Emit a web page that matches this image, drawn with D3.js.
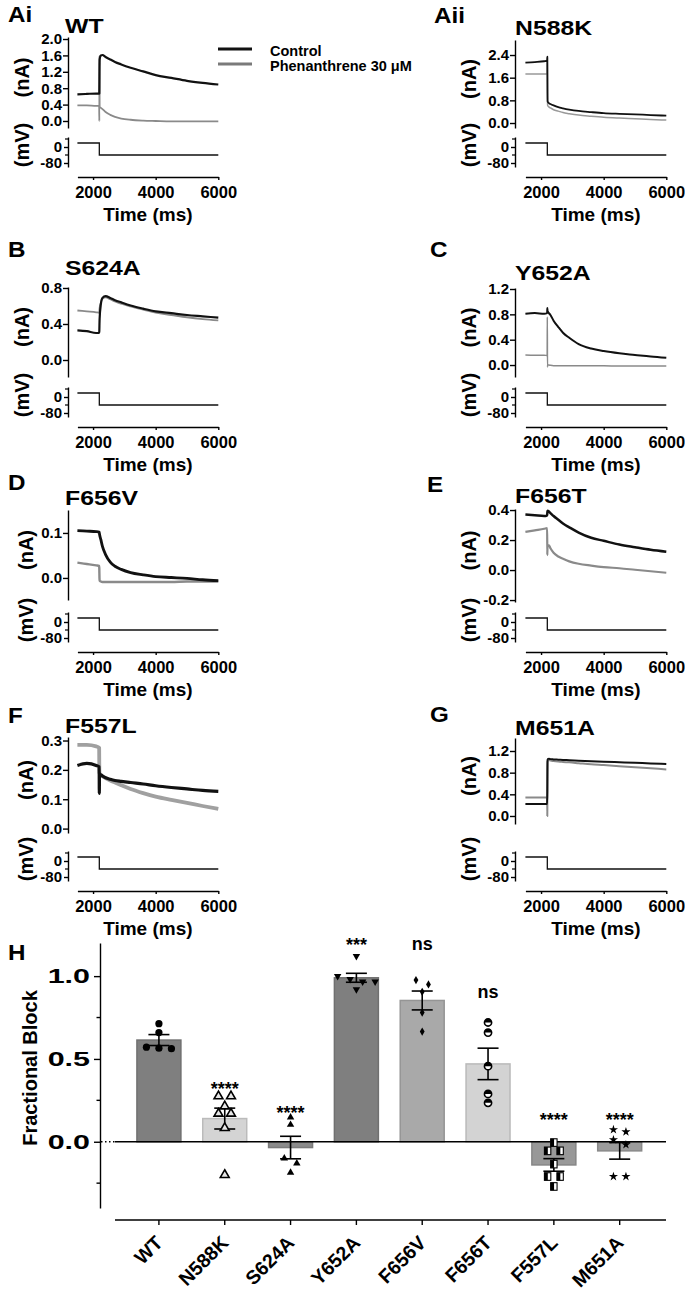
<!DOCTYPE html>
<html>
<head>
<meta charset="utf-8">
<script src="https://cdn.jsdelivr.net/npm/d3@7"></script>
<style>
  html, body { margin: 0; padding: 0; background: #fff; }
  svg { display: block; }
</style>
</head>
<body>
<svg id="chart" width="685" height="1294"></svg>
<script>
// ---------------- DATA ----------------
const timeMs = [1500, 1800, 2100, 2195, 2200, 2205, 2210, 2250, 2300, 2400, 2550, 2700, 2900, 3200, 3600, 4000, 4500, 5000, 5500, 6000];

const wtControl    = [0.65, 0.66, 0.67, 0.67, 0.67, 1.25, 1.5, 1.6, 1.61, 1.56, 1.5, 1.44, 1.38, 1.3, 1.21, 1.12, 1.05, 0.98, 0.93, 0.89];
const wtPhen       = [0.38, 0.38, 0.37, 0.37, 0.0, 1.58, 0.34, 0.32, 0.29, 0.22, 0.15, 0.1, 0.06, 0.03, 0.01, 0.0, -0.01, -0.01, -0.01, -0.01];
const n588kControl = [2.13, 2.15, 2.18, 2.2, 2.34, 1.2, 0.76, 0.7, 0.67, 0.62, 0.56, 0.52, 0.475, 0.425, 0.385, 0.35, 0.325, 0.305, 0.28, 0.26];
const n588kPhen    = [1.73, 1.73, 1.73, 1.73, 2.3, 0.9, 0.62, 0.57, 0.53, 0.47, 0.42, 0.37, 0.33, 0.28, 0.24, 0.205, 0.175, 0.15, 0.125, 0.105];
const s624aControl = [0.33, 0.32, 0.30, 0.30, 0.32, 0.4, 0.46, 0.62, 0.69, 0.71, 0.69, 0.665, 0.64, 0.605, 0.57, 0.54, 0.52, 0.5, 0.485, 0.47];
const s624aPhen    = [0.55, 0.54, 0.53, 0.525, 0.53, 0.56, 0.58, 0.64, 0.68, 0.695, 0.675, 0.65, 0.625, 0.595, 0.56, 0.525, 0.5, 0.475, 0.455, 0.44];
const y652aControl = [0.81, 0.82, 0.81, 0.82, 0.9, 0.86, 0.85, 0.82, 0.79, 0.7, 0.6, 0.51, 0.43, 0.33, 0.26, 0.22, 0.185, 0.16, 0.135, 0.115];
const y652aPhen    = [0.16, 0.155, 0.155, 0.15, 0.76, -0.03, 0.0, 0.0, -0.005, -0.01, -0.01, -0.01, -0.01, -0.012, -0.012, -0.013, -0.014, -0.015, -0.015, -0.015];
const f656vControl = [0.105, 0.104, 0.103, 0.102, 0.1, 0.098, 0.096, 0.085, 0.07, 0.052, 0.035, 0.026, 0.019, 0.012, 0.007, 0.003, 0.001, -0.001, -0.004, -0.006];
const f656vPhen    = [0.034, 0.031, 0.028, 0.027, 0.02, 0.0, -0.006, -0.008, -0.009, -0.009, -0.009, -0.009, -0.009, -0.009, -0.009, -0.009, -0.009, -0.008, -0.008, -0.008];
const f656tControl = [0.37, 0.365, 0.36, 0.365, 0.38, 0.39, 0.395, 0.39, 0.38, 0.36, 0.335, 0.31, 0.285, 0.25, 0.215, 0.195, 0.17, 0.152, 0.135, 0.122];
const f656tPhen    = [0.255, 0.265, 0.275, 0.28, 0.1, 0.16, 0.165, 0.165, 0.145, 0.115, 0.09, 0.075, 0.058, 0.042, 0.03, 0.02, 0.012, 0.002, -0.008, -0.018];
const f557lControl = [0.215, 0.222, 0.215, 0.21, 0.12, 0.19, 0.186, 0.183, 0.179, 0.173, 0.168, 0.164, 0.161, 0.157, 0.152, 0.146, 0.14, 0.135, 0.13, 0.127];
const f557lPhen    = [0.285, 0.285, 0.28, 0.275, 0.2, 0.19, 0.188, 0.183, 0.178, 0.172, 0.164, 0.157, 0.148, 0.135, 0.121, 0.109, 0.098, 0.088, 0.077, 0.067];
const m651aControl = [0.22, 0.22, 0.22, 0.22, 0.5, 1.0, 1.05, 1.055, 1.05, 1.045, 1.04, 1.035, 1.03, 1.022, 1.012, 1.003, 0.993, 0.982, 0.97, 0.96];
const m651aPhen    = [0.34, 0.34, 0.34, 0.34, 0.0, 0.9, 1.02, 1.03, 1.025, 1.015, 1.005, 0.998, 0.99, 0.975, 0.955, 0.94, 0.92, 0.9, 0.88, 0.86];

const wtTicks    = [0, 0.4, 0.8, 1.2, 1.6, 2.0];
const n588kTicks = [0, 0.8, 1.6, 2.4];
const s624aTicks = [0, 0.4, 0.8];
const y652aTicks = [0, 0.4, 0.8, 1.2];
const f656vTicks = [0, 0.1];
const f656tTicks = [-0.2, 0, 0.2, 0.4];
const f557lTicks = [0, 0.1, 0.2, 0.3];
const m651aTicks = [0, 0.4, 0.8, 1.2];

const stepTime = [1500, 2200, 2200, 6000];
const stepVoltage = [20, 20, -40, -40];
const timeTicks = [2000, 4000, 6000];
const voltageTicks = [0, -80];
const voltageMinorTicks = [40, -40];
const legendLabels = ["Control", "Phenanthrene 30 \u03bcM"];

const mutants = ["WT", "N588K", "S624A", "Y652A", "F656V", "F656T", "F557L", "M651A"];
const blockMean = [0.614, 0.14, -0.035, 0.99, 0.853, 0.47, -0.14, -0.055];
const blockSem  = [0.033, 0.063, 0.068, 0.027, 0.057, 0.095, 0.038, 0.05];
const blockPoints = [
  [0.713, 0.659, 0.571, 0.565, 0.562],
  [0.275, 0.275, 0.214, 0.17, 0.17, 0.083, -0.2],
  [0.147, 0.103, -0.1, -0.13, -0.186],
  [1.12, 1.0, 0.982, 0.966, 0.966, 0.92],
  [0.976, 0.95, 0.905, 0.78, 0.665],
  [0.72, 0.659, 0.456, 0.289, 0.235],
  [-0.005, -0.055, -0.055, -0.135, -0.21, -0.21, -0.27],
  [0.073, 0.06, 0.012, -0.018, -0.21, -0.21]
];
const sigText = ["", "****", "****", "***", "ns", "ns", "****", "****"];
const blockTicks = [0, 0.5, 1.0];
const blockMinorTicks = [-0.25, 0.25, 0.75];

// ---------------- LAYOUT / STYLE ----------------
const FONT = '"Liberation Sans", Arial, Helvetica, sans-serif';
const sigLevel = [null, 0.345, 0.2, 1.21, 1.19, 0.9, 0.158, 0.158];
const barFill = ["#7f7f7f", "#d4d4d4", "#8b8b8b", "#7f7f7f", "#a9a9a9", "#d3d3d3", "#989898", "#9c9c9c"];
const markerType = ["circle", "triOpen", "tri", "triDown", "diamond", "halfCircle", "halfSquare", "star"];

const cols = [
  { axisX: 68,  xr: [77.4, 218.3], lx: 29,  letterX: 8,   titleX: 65 },
  { axisX: 515, xr: [525.4, 666.3], lx: 476, letterX: 430, titleX: 515 }
];
const rowDy = [0, 250, 475, 714];

const panels = [
  { letter: "Ai",  title: "WT",    ctrl: wtControl,    phen: wtPhen,    ticks: wtTicks,    col: 0, row: 0, yr: [128, 37],  dom: [-0.171, 2.049], letterY: 22,  titleY: 33,  w: [2.2, 1.8] },
  { letter: "Aii", title: "N588K", ctrl: n588kControl, phen: n588kPhen, ticks: n588kTicks, col: 1, row: 0, yr: [128, 40],  dom: [-0.176, 2.93],  letterY: 23,  titleY: 35,  letterX: 434, w: [1.8, 1.5], gray: "#999" },
  { letter: "B",   title: "S624A", ctrl: s624aControl, phen: s624aPhen, ticks: s624aTicks, col: 0, row: 1, yr: [377, 287], dom: [-0.189, 0.811], letterY: 257, titleY: 275, w: [2.2, 1.8] },
  { letter: "C",   title: "Y652A", ctrl: y652aControl, phen: y652aPhen, ticks: y652aTicks, col: 1, row: 1, yr: [377, 288], dom: [-0.189, 1.216], letterY: 257, titleY: 280, w: [2.0, 1.5] },
  { letter: "D",   title: "F656V", ctrl: f656vControl, phen: f656vPhen, ticks: f656vTicks, col: 0, row: 2, yr: [600, 510], dom: [-0.049, 0.151], letterY: 490, titleY: 505, lx: 33, w: [2.8, 2.4] },
  { letter: "E",   title: "F656T", ctrl: f656tControl, phen: f656tPhen, ticks: f656tTicks, col: 1, row: 2, yr: [602, 509], dom: [-0.213, 0.407], letterY: 492, titleY: 503, letterX: 427, w: [2.5, 2.2] },
  { letter: "F",   title: "F557L", ctrl: f557lControl, phen: f557lPhen, ticks: f557lTicks, col: 0, row: 3, yr: [833, 737], dom: [-0.015, 0.312], letterY: 723, titleY: 733, lx: 33, w: [3.2, 3.8], gray: "#a0a0a0" },
  { letter: "G",   title: "M651A", ctrl: m651aControl, phen: m651aPhen, ticks: m651aTicks, col: 1, row: 3, yr: [824, 738], dom: [-0.148, 1.44],  letterY: 722, titleY: 735, w: [2.0, 2.0] }
];

// ---------------- HELPERS ----------------
const svg = d3.select("#chart");

function txt(parent, x, y, s, size, anchor, stretch, rotate) {
  const t = parent.append("text")
    .attr("font-family", FONT).attr("font-weight", "bold")
    .attr("font-size", size).attr("fill", "#000")
    .attr("text-anchor", anchor || "start")
    .text(s);
  if (rotate) t.attr("transform", `translate(${x},${y}) rotate(${rotate})`);
  else t.attr("x", x).attr("y", y);
  if (stretch && stretch !== 1) {
    const L = t.node().getComputedTextLength();
    t.attr("textLength", L * stretch).attr("lengthAdjust", "spacingAndGlyphs");
  }
  return t;
}

function styleAxis(g, fs, stretch) {
  g.attr("font-family", null).attr("font-size", null);
  g.select(".domain").attr("stroke", "#000").attr("stroke-width", 1.4);
  g.selectAll(".tick line").attr("stroke", "#000").attr("stroke-width", 1.4);
  g.selectAll(".tick text")
    .attr("font-family", FONT).attr("font-weight", "bold")
    .attr("font-size", fs).attr("fill", "#000");
  if (stretch) {
    g.selectAll(".tick text").each(function () {
      const L = this.getComputedTextLength();
      this.setAttribute("textLength", L * stretch);
      this.setAttribute("lengthAdjust", "spacingAndGlyphs");
    });
  }
}

// ---------------- TRACE PANELS ----------------
panels.forEach(p => {
  const L = cols[p.col], dy = rowDy[p.row];
  const x = d3.scaleLinear().domain([1500, 6000]).range(L.xr);
  const y = d3.scaleLinear().domain(p.dom).range(p.yr);
  const yv = d3.scaleLinear().domain([-100, 50]).range([167 + dy, 137 + dy]);
  const g = svg.append("g");

  txt(g, p.letterX !== undefined ? p.letterX : L.letterX, p.letterY, p.letter, 22, "start", 1.1);
  txt(g, p.titleX !== undefined ? p.titleX : L.titleX, p.titleY, p.title, 21, "start", 1.18);

  const ga = g.append("g").attr("transform", `translate(${L.axisX},0)`)
    .call(d3.axisLeft(y).tickValues(p.ticks).tickSize(5).tickPadding(1).tickSizeOuter(0)
      .tickFormat(d => d.toFixed(1)));
  styleAxis(ga, 15);

  const gv = g.append("g").attr("transform", `translate(${L.axisX},0)`)
    .call(d3.axisLeft(yv).tickValues(voltageTicks).tickSize(4).tickPadding(2).tickSizeOuter(0)
      .tickFormat(d => String(d)));
  styleAxis(gv, 15);
  gv.selectAll("line.minor").data(voltageMinorTicks).join("line").attr("class", "minor")
    .attr("x1", -3).attr("x2", 0).attr("y1", d => yv(d)).attr("y2", d => yv(d))
    .attr("stroke", "#000").attr("stroke-width", 1.2);

  const gx = g.append("g").attr("transform", `translate(0,${177 + dy})`)
    .call(d3.axisBottom(x).tickValues(timeTicks).tickSize(3).tickPadding(6).tickSizeOuter(0)
      .tickFormat(d3.format("d")));
  styleAxis(gx, 16.5);

  txt(g, (L.xr[0] + L.xr[1]) / 2, 221 + dy, "Time (ms)", 19, "middle");

  const lx = p.lx !== undefined ? p.lx : L.lx;
  txt(g, lx, (p.yr[0] + p.yr[1]) / 2 - 5, "(nA)", 20, "middle", 1, -90);
  txt(g, lx, 145 + dy, "(mV)", 20, "middle", 1, -90);

  const line = d3.line().x((d, i) => x(timeMs[i])).y(d => y(d)).curve(d3.curveMonotoneX);
  g.append("path").datum(p.phen).attr("d", line).attr("fill", "none")
    .attr("stroke", p.gray || "#8a8a8a").attr("stroke-width", p.w[1]).attr("stroke-linejoin", "round");
  g.append("path").datum(p.ctrl).attr("d", line).attr("fill", "none")
    .attr("stroke", "#111").attr("stroke-width", p.w[0]).attr("stroke-linejoin", "round");

  const vline = d3.line().x((d, i) => x(stepTime[i])).y(d => yv(d));
  g.append("path").datum(stepVoltage).attr("d", vline).attr("fill", "none")
    .attr("stroke", "#111").attr("stroke-width", 1.3);
});

// legend (panel Ai)
const legColors = ["#111", "#7a7a7a"];
legendLabels.forEach((s, i) => {
  const yy = 49 + i * 15;
  svg.append("line").attr("x1", 218).attr("x2", 252).attr("y1", yy).attr("y2", yy)
    .attr("stroke", legColors[i]).attr("stroke-width", 3);
  txt(svg, 270, yy + 6.5, s, 14.5, "start");
});

// ---------------- PANEL H ----------------
const gH = svg.append("g");
const xb = d3.scalePoint().domain(mutants).range([126, 652.6]).padding(0.5);
const yb = d3.scaleLinear().domain([-0.4, 1.2]).range([1208, 943]);
const bw = xb.step() * 0.668;

txt(gH, 8, 960, "H", 22, "start", 1.1);

// bars
gH.selectAll("rect.bar").data(mutants).join("rect").attr("class", "bar")
  .attr("x", d => xb(d) - bw / 2).attr("width", bw)
  .attr("y", (d, i) => yb(Math.max(0, blockMean[i])))
  .attr("height", (d, i) => Math.abs(yb(blockMean[i]) - yb(0)))
  .attr("fill", (d, i) => barFill[i])
  .attr("stroke", (d, i) => d3.color(barFill[i]).darker(0.35))
  .attr("stroke-width", 1.5);

// zero line
gH.append("line").attr("x1", 101).attr("x2", 115).attr("y1", yb(0)).attr("y2", yb(0))
  .attr("stroke", "#000").attr("stroke-width", 1.3).attr("stroke-dasharray", "1.5,2.5");
gH.append("line").attr("x1", 115).attr("x2", 666).attr("y1", yb(0)).attr("y2", yb(0))
  .attr("stroke", "#000").attr("stroke-width", 1.6);

// error bars
mutants.forEach((m, i) => {
  const cx = xb(m), lo = yb(blockMean[i] - blockSem[i]), hi = yb(blockMean[i] + blockSem[i]);
  gH.append("line").attr("x1", cx).attr("x2", cx).attr("y1", lo).attr("y2", hi)
    .attr("stroke", "#000").attr("stroke-width", 1.6);
  [lo, hi].forEach(yy => gH.append("line").attr("x1", cx - 10.5).attr("x2", cx + 10.5)
    .attr("y1", yy).attr("y2", yy).attr("stroke", "#000").attr("stroke-width", 1.6));
});

// points (row-based dodge)
function drawMarker(type, cx, cy) {
  const s = gH.append("g").attr("transform", `translate(${cx},${cy})`);
  if (type === "circle") {
    s.append("circle").attr("r", 3.6).attr("fill", "#000");
  } else if (type === "triOpen") {
    s.append("path").attr("d", d3.symbol(d3.symbolTriangle, 34)())
      .attr("fill", "#e6e6e6").attr("stroke", "#000").attr("stroke-width", 1.6);
  } else if (type === "tri") {
    s.append("path").attr("d", d3.symbol(d3.symbolTriangle, 24)()).attr("fill", "#000");
  } else if (type === "triDown") {
    s.append("path").attr("d", d3.symbol(d3.symbolTriangle, 24)()).attr("fill", "#000")
      .attr("transform", "rotate(180)");
  } else if (type === "diamond") {
    s.append("path").attr("d", d3.symbol(d3.symbolDiamond, 20)()).attr("fill", "#000");
  } else if (type === "halfCircle") {
    s.append("circle").attr("r", 3.6).attr("fill", "#fff").attr("stroke", "#000").attr("stroke-width", 1.6);
    s.append("path").attr("d", "M-3.6,0A3.6,3.6 0 0 1 3.6,0Z").attr("fill", "#000");
  } else if (type === "halfSquare") {
    s.append("rect").attr("x", -3.2).attr("y", -3.8).attr("width", 6.4).attr("height", 7.6)
      .attr("fill", "#fff").attr("stroke", "#000").attr("stroke-width", 1.1);
    s.append("rect").attr("x", -3.2).attr("y", -3.8).attr("width", 3.4).attr("height", 7.6).attr("fill", "#000");
  } else if (type === "star") {
    s.append("path").attr("d", d3.symbol(d3.symbolStar, 26)()).attr("fill", "#000");
  }
}

const dodgeStep = 12.5;
mutants.forEach((m, i) => {
  const pts = blockPoints[i].map(v => ({ v, py: yb(v) })).sort((a, b) => a.py - b.py);
  const rows = [];
  pts.forEach(pt => {
    const last = rows[rows.length - 1];
    if (last && pt.py - last[0].py <= 6) last.push(pt);
    else rows.push([pt]);
  });
  rows.forEach(r => r.forEach((pt, k) => {
    drawMarker(markerType[i], xb(m) + (k - (r.length - 1) / 2) * dodgeStep, pt.py);
  }));
});

// significance labels
mutants.forEach((m, i) => {
  if (!sigText[i]) return;
  const isNs = sigText[i] === "ns";
  txt(gH, xb(m), yb(sigLevel[i]) + (isNs ? 5 : 10), sigText[i], 18, "middle");
});

// y axis
const gy = gH.append("g").attr("transform", "translate(100,0)")
  .call(d3.axisLeft(yb).tickValues(blockTicks).tickSize(6).tickPadding(4).tickSizeOuter(0)
    .tickFormat(d => d.toFixed(1)));
styleAxis(gy, 21, 1.45);
gy.selectAll("line.minor").data(blockMinorTicks).join("line").attr("class", "minor")
  .attr("x1", -3.5).attr("x2", 0).attr("y1", d => yb(d)).attr("y2", d => yb(d))
  .attr("stroke", "#000").attr("stroke-width", 1.4);

txt(gH, 37, 1068, "Fractional Block", 20, "middle", 1, -90);

// x axis
gH.append("line").attr("x1", 115).attr("x2", 666).attr("y1", 1220).attr("y2", 1220)
  .attr("stroke", "#000").attr("stroke-width", 1.6);
mutants.forEach(m => {
  gH.append("line").attr("x1", xb(m)).attr("x2", xb(m)).attr("y1", 1220).attr("y2", 1225)
    .attr("stroke", "#000").attr("stroke-width", 1.4);
  txt(gH, xb(m) + 5, 1244, m, 19.5, "end", 1, -45);
});
</script>
</body>
</html>
